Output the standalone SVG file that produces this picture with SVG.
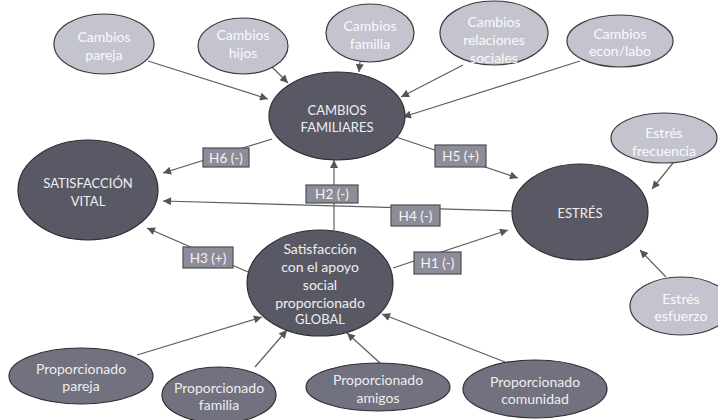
<svg xmlns="http://www.w3.org/2000/svg" width="718" height="420" viewBox="0 0 718 420">
<defs>
<marker id="arr" viewBox="0 0 10 10" refX="10" refY="5" markerWidth="9" markerHeight="8" markerUnits="userSpaceOnUse" orient="auto">
<path d="M0,0 L10,5 L0,10 Z" fill="#555"/>
</marker>
<style>
text{font-family:Lato,"Liberation Sans",sans-serif;font-size:14px;text-anchor:middle;dominant-baseline:central}
text.caps{font-size:13px}
.dark ellipse{fill:#595966;stroke:#2e2e33;stroke-width:1.2}
.mid ellipse{fill:#71717f;stroke:#2e2e33;stroke-width:1.2}
.light ellipse{fill:#c4c4ce;stroke:#3a3a3f;stroke-width:1.2}
.dark text,.mid text{fill:#eeeeee}
g.light text{fill:#fafafa}
.lbl rect{fill:#8d8d9a;stroke:#4d4d55;stroke-width:1.2}
.lbl text{fill:#f4f4f4;font-size:13.5px}
.conn line{stroke:#5e5e5e;stroke-width:1.2;marker-end:url(#arr)}
</style>
</defs>
<rect width="718" height="420" fill="#ffffff"/>

<g id="connectors" class="conn">
<line x1="148" y1="61" x2="268" y2="99"/>
<line x1="272" y1="67" x2="288" y2="83"/>
<line x1="360" y1="62" x2="359" y2="72"/>
<line x1="463" y1="65" x2="401" y2="97"/>
<line x1="580" y1="61" x2="403" y2="117"/>
<line x1="272" y1="139" x2="163" y2="173"/>
<line x1="396" y1="137" x2="518" y2="178"/>
<line x1="334" y1="230" x2="334" y2="160"/>
<line x1="512" y1="211" x2="163" y2="201"/>
<line x1="248" y1="272" x2="147" y2="228"/>
<line x1="393" y1="268" x2="508" y2="230"/>
<line x1="673" y1="163" x2="652" y2="189"/>
<line x1="666" y1="277" x2="640" y2="250"/>
<line x1="137" y1="355" x2="262" y2="317"/>
<line x1="255" y1="367" x2="287" y2="330"/>
<line x1="380" y1="363" x2="347" y2="333"/>
<line x1="505" y1="362" x2="382" y2="314"/>
</g>

<g id="cambios-pareja" class="light"><ellipse cx="104" cy="44" rx="50" ry="30"/><text x="104" y="36">Cambios</text><text x="104" y="54">pareja</text></g>
<g id="cambios-hijos" class="light"><ellipse cx="243" cy="46" rx="45" ry="28"/><text x="243" y="34">Cambios</text><text x="243" y="52">hijos</text></g>
<g id="cambios-familia" class="light"><ellipse cx="370" cy="33" rx="44" ry="29"/><text x="370" y="25">Cambios</text><text x="370" y="43">familia</text></g>
<g id="cambios-relaciones" class="light"><ellipse cx="494" cy="33" rx="54" ry="32"/><text x="494" y="21">Cambios</text><text x="494" y="39">relaciones</text><text x="494" y="57">sociales</text></g>
<g id="cambios-econ" class="light"><ellipse cx="620" cy="41" rx="53" ry="26"/><text x="620" y="33">Cambios</text><text x="620" y="50">econ/labo</text></g>

<g id="cambios-familiares" class="dark"><ellipse cx="337" cy="116" rx="68" ry="44"/><text class="caps" x="337" y="110">CAMBIOS</text><text class="caps" x="337" y="127">FAMILIARES</text></g>
<g id="satisfaccion-vital" class="dark"><ellipse cx="88" cy="190" rx="70" ry="50"/><text class="caps" x="88" y="183">SATISFACCIÓN</text><text class="caps" x="88" y="201">VITAL</text></g>
<g id="estres" class="dark"><ellipse cx="580" cy="212" rx="68" ry="48"/><text class="caps" x="580" y="213">ESTRÉS</text></g>
<g id="satisfaccion-global" class="dark"><ellipse cx="320" cy="283" rx="73" ry="53"/><text x="320" y="248">Satisfacción</text><text x="320" y="266">con el apoyo</text><text x="320" y="284">social</text><text x="320" y="302">proporcionado</text><text class="caps" x="320" y="319">GLOBAL</text></g>

<g id="estres-frecuencia" class="light"><ellipse cx="664" cy="138" rx="53" ry="25"/><text x="664" y="132">Estrés</text><text x="664" y="150">frecuencia</text></g>
<g id="estres-esfuerzo" class="light"><ellipse cx="681" cy="306" rx="51" ry="29"/><text x="681" y="298">Estrés</text><text x="681" y="315">esfuerzo</text></g>

<g id="prop-pareja" class="mid"><ellipse cx="81" cy="376" rx="72" ry="28"/><text x="81" y="368">Proporcionado</text><text x="81" y="385">pareja</text></g>
<g id="prop-familia" class="mid"><ellipse cx="219" cy="395" rx="57" ry="28"/><text x="219" y="387">Proporcionado</text><text x="219" y="404">familia</text></g>
<g id="prop-amigos" class="mid"><ellipse cx="378" cy="387" rx="72" ry="24"/><text x="378" y="379">Proporcionado</text><text x="378" y="397">amigos</text></g>
<g id="prop-comunidad" class="mid"><ellipse cx="535" cy="389" rx="72" ry="29"/><text x="535" y="381">Proporcionado</text><text x="535" y="398">comunidad</text></g>

<g id="label-h6" class="lbl"><rect x="203" y="148" width="46" height="19"/><text x="226" y="158">H6 (-)</text></g>
<g id="label-h5" class="lbl"><rect x="435" y="145" width="51" height="22"/><text x="460.5" y="156">H5 (+)</text></g>
<g id="label-h2" class="lbl"><rect x="306" y="185" width="52" height="18"/><text x="332" y="194">H2 (-)</text></g>
<g id="label-h4" class="lbl"><rect x="391" y="205" width="49" height="21"/><text x="415.5" y="215.5">H4 (-)</text></g>
<g id="label-h3" class="lbl"><rect x="183" y="247" width="50" height="21"/><text x="208" y="257.5">H3 (+)</text></g>
<g id="label-h1" class="lbl"><rect x="414" y="252" width="47" height="22"/><text x="437.5" y="263">H1 (-)</text></g>
</svg>
